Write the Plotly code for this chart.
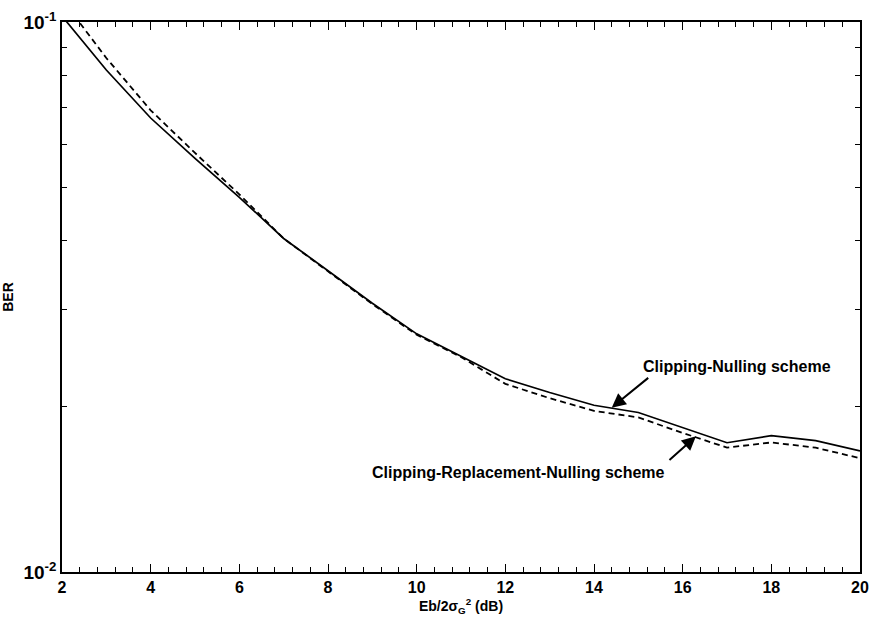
import math
import plotly.graph_objects as go

# Eb/2sigma_G^2 in dB
snr_db = [2, 3, 4, 5, 6, 7, 8, 9, 10, 11, 12, 13, 14, 15, 16, 17, 18, 19, 20]

# BER of the two schemes
ber_clip_null = [0.1025, 0.0818, 0.0669, 0.0565, 0.0480, 0.0404, 0.0353, 0.0308, 0.0271,
                 0.0247, 0.02246, 0.0212, 0.0201, 0.0195, 0.0183, 0.01718, 0.0177, 0.01733, 0.0166]
ber_clip_repl_null = [0.110, 0.0860, 0.0691, 0.0578, 0.0486, 0.0404, 0.0352, 0.0307, 0.0270,
                      0.0246, 0.02198, 0.0207, 0.01963, 0.0191, 0.0179, 0.01683, 0.0172, 0.01683, 0.0161]

label_cn = "Clipping-Nulling scheme"
label_crn = "Clipping-Replacement-Nulling scheme"

y_major = [0.01, 0.1]
y_major_text = ["10<sup>-2</sup>", "10<sup>-1</sup>"]
y_minor = [0.02, 0.03, 0.04, 0.05, 0.06, 0.07, 0.08, 0.09]

fig = go.Figure()
fig.add_trace(go.Scatter(x=snr_db, y=ber_clip_null, mode="lines", name=label_cn,
                         line=dict(color="black", width=1.7)))
fig.add_trace(go.Scatter(x=snr_db, y=ber_clip_repl_null, mode="lines", name=label_crn,
                         line=dict(color="black", width=1.8, dash="6px,4px")))

font_main = "Liberation Sans, Arial, sans-serif"

# Arrows pointing at each curve (tail offset in pixels from the head);
# annotation y on a log axis is given in log10 units
arrow_style = dict(showarrow=True, arrowhead=2, arrowsize=1.4, arrowwidth=2,
                   arrowcolor="black", font=dict(size=1))
fig.add_annotation(x=14.4, y=math.log10(0.0199), ax=38, ay=-31, text=" ", **arrow_style)
fig.add_annotation(x=16.3, y=math.log10(0.01765), ax=-28, ay=25, text=" ", **arrow_style)

plot_l, plot_r, plot_t, plot_b = 62, 9, 22, 51
plot_w = 869 - plot_l - plot_r
plot_h = 623 - plot_t - plot_b


def px_to_paper(px, py):
    return (px - plot_l) / plot_w, 1 - (py - plot_t) / plot_h


cx, cy = px_to_paper(737, 366)
fig.add_annotation(x=cx, y=cy, xref="paper", yref="paper", xanchor="center", yanchor="middle",
                   text="<b>" + label_cn + "</b>", showarrow=False, font=dict(size=16))
cx, cy = px_to_paper(518, 472)
fig.add_annotation(x=cx, y=cy, xref="paper", yref="paper", xanchor="center", yanchor="middle",
                   text="<b>" + label_crn + "</b>", showarrow=False, font=dict(size=16))

fig.update_layout(
    width=869, height=623,
    margin=dict(l=plot_l, r=plot_r, t=plot_t, b=plot_b),
    paper_bgcolor="white", plot_bgcolor="white",
    showlegend=False,
    font=dict(family=font_main, color="black", size=14),
    xaxis=dict(
        range=[2, 20], tickmode="linear", tick0=2, dtick=2, automargin=False,
        ticks="inside", ticklen=8, tickwidth=1, tickcolor="black",
        minor=dict(ticks="inside", dtick=0.4, tick0=2, ticklen=5, tickcolor="black"),
        showline=True, linecolor="black", linewidth=1.5, mirror="ticks",
        showgrid=False, zeroline=False,
        tickfont=dict(size=16, family=font_main),
        tickprefix="<b>", ticksuffix="</b>",
        title=dict(text="<b>Eb/2σ<sub>G</sub><sup>2</sup> (dB)</b>", font=dict(size=14), standoff=4),
    ),
    yaxis=dict(
        type="log", range=[-2, -1], automargin=False,
        tickmode="array", tickvals=y_major, ticktext=["<b>" + t + "</b>" for t in y_major_text],
        ticks="inside", ticklen=8, tickcolor="black",
        minor=dict(ticks="inside", tickvals=y_minor, ticklen=5, tickcolor="black"),
        showline=True, linecolor="black", linewidth=1.5, mirror="ticks",
        showgrid=False, zeroline=False,
        tickfont=dict(size=19, family=font_main),
        title=dict(text="<b>BER</b>", font=dict(size=14), standoff=12),
    ),
)

fig.write_html("out.html")
